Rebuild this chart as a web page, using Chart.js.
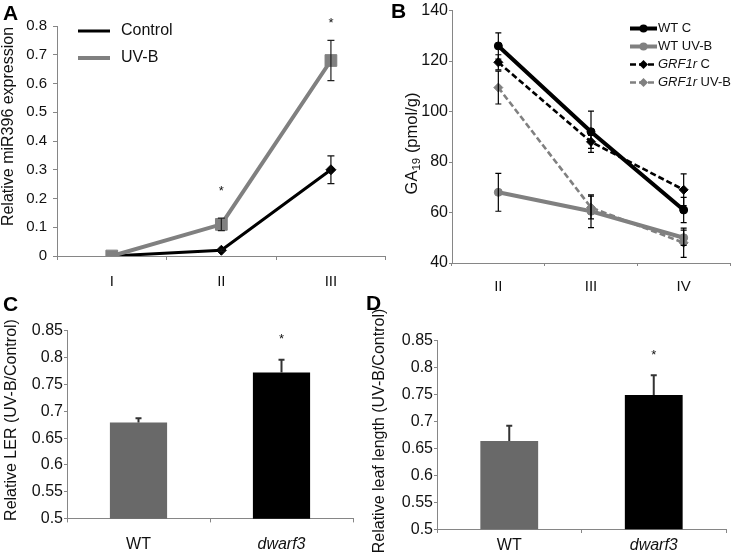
<!DOCTYPE html>
<html><head><meta charset="utf-8">
<script src="https://cdn.jsdelivr.net/npm/chart.js@4.4.1/dist/chart.umd.min.js"></script>
<style>
html,body{margin:0;padding:0;background:#fff;width:737px;height:553px;overflow:hidden;position:relative}
canvas{position:absolute}
.pl{position:absolute;font:bold 21px 'Liberation Sans',Arial,sans-serif;line-height:21px;color:#000}
</style></head><body>
<canvas id="cA" width="395" height="295" style="left:0px;top:0px;width:395px;height:295px"></canvas>
<canvas id="cB" width="367" height="295" style="left:370px;top:0px;width:367px;height:295px"></canvas>
<canvas id="cC" width="370" height="263" style="left:0px;top:290px;width:370px;height:263px"></canvas>
<canvas id="cD" width="367" height="263" style="left:370px;top:290px;width:367px;height:263px"></canvas>
<div class="pl" style="left:3px;top:2px">A</div>
<div class="pl" style="left:391px;top:0px">B</div>
<div class="pl" style="left:3px;top:293px">C</div>
<div class="pl" style="left:366px;top:292px">D</div>
<script>
// ---------------- data ----------------
const stagesA = ['I', 'II', 'III'];
const controlA = [0, 0.02, 0.30];
const controlErrA = [0, 0.004, 0.048];
const uvbA = [0, 0.11, 0.68];
const uvbErrA = [0, 0.022, 0.07];
const sigA = ['', '*', '*'];
const yTickValsA = [0, 0.1, 0.2, 0.3, 0.4, 0.5, 0.6, 0.7, 0.8];
const yTickLabelsA = ['0', '0.1', '0.2', '0.3', '0.4', '0.5', '0.6', '0.7', '0.8'];

const stagesB = ['II', 'III', 'IV'];
const wtC = [126, 92, 61];
const wtCErr = [5.2, 8.2, 5];
const wtUVB = [68, 60.5, 50];
const wtUVBErr = [7.5, 6.5, 3];
const grfC = [119.5, 88, 69];
const grfCErr = [3, 2.6, 6.3];
const grfUVB = [109.5, 62, 48];
const grfUVBErr = [6.5, 4.5, 5.8];
const yTickValsB = [40, 60, 80, 100, 120, 140];
const yTickLabelsB = ['40', '60', '80', '100', '120', '140'];

const genotypes = ['WT', 'dwarf3'];
const italicGenotypes = ['dwarf3'];
const lerC = [0.679, 0.772];
const lerErrC = [0.008, 0.024];
const leafD = [0.664, 0.749];
const leafErrD = [0.028, 0.037];
const sigCD = ['', '*'];
const yTickValsCD = [0.5, 0.55, 0.6, 0.65, 0.7, 0.75, 0.8, 0.85];
const yTickLabelsCD = ['0.5', '0.55', '0.6', '0.65', '0.7', '0.75', '0.8', '0.85'];

// ---------------- styling helpers ----------------
const FONT = "'Liberation Sans', Arial, Helvetica, sans-serif";
const AXIS = '#868686';
const TXT = '#111';
const GRAY = '#808080';
Chart.defaults.font.family = FONT;
Chart.defaults.color = TXT;

const errorBarPlugin = {
  id: 'errorBars',
  afterDatasetsDraw(chart) {
    const ctx = chart.ctx, y = chart.scales.y;
    chart.data.datasets.forEach((ds, di) => {
      if (!ds.errors) return;
      const meta = chart.getDatasetMeta(di);
      meta.data.forEach((el, i) => {
        const v = ds.data[i], e = ds.errors[i];
        if (!e) return;
        const top = y.getPixelForValue(v + e);
        const bot = ds.errorUpOnly ? y.getPixelForValue(v) : y.getPixelForValue(v - e);
        const c = ds.errorCap || 3;
        ctx.save();
        ctx.strokeStyle = ds.errorColor || '#000';
        ctx.lineWidth = ds.errorWidth || 1.2;
        ctx.beginPath();
        ctx.moveTo(el.x, top); ctx.lineTo(el.x, bot);
        ctx.moveTo(el.x - c, top); ctx.lineTo(el.x + c, top);
        if (!ds.errorUpOnly) { ctx.moveTo(el.x - c, bot); ctx.lineTo(el.x + c, bot); }
        ctx.stroke();
        ctx.restore();
      });
    });
  }
};

const sigPlugin = {
  id: 'sig',
  afterDatasetsDraw(chart, args, opts) {
    if (!opts || !opts.marks) return;
    const ctx = chart.ctx, x = chart.scales.x, y = chart.scales.y;
    opts.marks.forEach((m, i) => {
      if (!m) return;
      let top = Infinity;
      chart.data.datasets.forEach(ds => {
        const v = ds.data[i] + (ds.errors ? ds.errors[i] : 0);
        top = Math.min(top, y.getPixelForValue(v));
      });
      ctx.save();
      ctx.fillStyle = TXT;
      ctx.font = '13px ' + FONT;
      ctx.textAlign = 'center';
      ctx.textBaseline = 'middle';
      ctx.fillText(m, x.getPixelForValue(i), top - opts.gaps[i] + 3);
      ctx.restore();
    });
  }
};

function drawVTitle(ctx, parts, cx, cy, size) {
  ctx.save();
  ctx.fillStyle = TXT;
  ctx.textBaseline = 'middle';
  ctx.textAlign = 'left';
  const fontOf = p => (p.italic ? 'italic ' : '') + (p.sub ? size * 0.7 : size) + 'px ' + FONT;
  let total = 0;
  parts.forEach(p => { ctx.font = fontOf(p); total += ctx.measureText(p.text).width; });
  ctx.translate(cx, cy);
  ctx.rotate(-Math.PI / 2);
  let x = -total / 2;
  parts.forEach(p => {
    ctx.font = fontOf(p);
    ctx.fillText(p.text, x, p.sub ? size * 0.3 : 0);
    x += ctx.measureText(p.text).width;
  });
  ctx.restore();
}

function xAxis(height, tickLen, pad, size, italicList) {
  return {
    offset: true,
    grid: { display: true, drawOnChartArea: false, offset: true, tickLength: tickLen, color: AXIS },
    border: { display: true, color: AXIS, width: 1 },
    ticks: {
      padding: pad, color: TXT,
      font: c => ({ family: FONT, size: size,
        style: (italicList && c.tick && italicList.includes(c.chart.data.labels[c.index])) ? 'italic' : 'normal' })
    },
    afterFit: s => { s.height = height; }
  };
}
function yAxis(width, min, max, vals, labels, tickLen, pad, size) {
  return {
    min: min, max: max,
    grid: { display: true, drawOnChartArea: false, tickLength: tickLen, color: AXIS },
    border: { display: true, color: AXIS, width: 1 },
    afterBuildTicks: s => { s.ticks = vals.map(v => ({ value: v })); },
    ticks: { padding: pad, color: TXT, font: { family: FONT, size: size }, callback: (v, i) => labels[i] },
    afterFit: s => { s.width = width; }
  };
}
const baseOpts = {
  responsive: false, animation: false, devicePixelRatio: 1,
  events: []
};

// ---------------- Panel A ----------------
new Chart(document.getElementById('cA'), {
  type: 'line',
  data: {
    labels: stagesA,
    datasets: [
      { label: 'Control', data: controlA, errors: controlErrA, borderColor: '#000', backgroundColor: '#000',
        borderWidth: 3, pointStyle: 'rectRot', pointRadius: 5, pointBorderWidth: 1, order: 1,
        errorColor: '#111', errorCap: 3.5, tension: 0 },
      { label: 'UV-B', data: uvbA, errors: uvbErrA, borderColor: GRAY, backgroundColor: GRAY,
        borderWidth: 4, pointStyle: 'rect', pointRadius: 8.3, pointBorderWidth: 1, order: 0,
        errorColor: '#222', errorCap: 3.5, tension: 0 }
    ]
  },
  options: Object.assign({}, baseOpts, {
    layout: { padding: { left: 0, right: 7, top: 26, bottom: 0 } },
    plugins: { legend: { display: false }, tooltip: { enabled: false },
      sig: { marks: sigA, gaps: [0, 30, 20] } },
    scales: {
      x: xAxis(39, 4, 13, 15),
      y: yAxis(57, 0, 0.8, yTickValsA, yTickLabelsA, 4, 6, 15)
    }
  }),
  plugins: [errorBarPlugin, sigPlugin, {
    id: 'decorA',
    afterDraw(chart) {
      const ctx = chart.ctx;
      const rows = [31, 58];
      chart.data.datasets.forEach((ds, i) => {
        ctx.save();
        ctx.strokeStyle = ds.borderColor; ctx.lineWidth = ds.borderWidth;
        ctx.beginPath(); ctx.moveTo(78, rows[i]); ctx.lineTo(110, rows[i]); ctx.stroke();
        ctx.fillStyle = TXT; ctx.font = '16px ' + FONT; ctx.textBaseline = 'middle';
        ctx.fillText(ds.label, 121, rows[i]);
        ctx.restore();
      });
      drawVTitle(ctx, [{ text: 'Relative miR396 expression' }], 9, 126.5, 16);
    }
  }]
});

// ---------------- Panel B ----------------
const legendB = [
  [{ text: 'WT C' }],
  [{ text: 'WT UV-B' }],
  [{ text: 'GRF1r', italic: true }, { text: ' C' }],
  [{ text: 'GRF1r', italic: true }, { text: ' UV-B' }]
];
new Chart(document.getElementById('cB'), {
  type: 'line',
  data: {
    labels: stagesB,
    datasets: [
      { label: 'WT C', data: wtC, errors: wtCErr, borderColor: '#000', backgroundColor: '#000', borderWidth: 4,
        pointStyle: 'circle', pointRadius: 4, pointBorderWidth: 1, tension: 0 },
      { label: 'WT UV-B', data: wtUVB, errors: wtUVBErr, borderColor: GRAY, backgroundColor: GRAY, borderWidth: 4,
        pointStyle: 'circle', pointRadius: 4, pointBorderWidth: 1, tension: 0 },
      { label: 'GRF1r C', data: grfC, errors: grfCErr, borderColor: '#000', backgroundColor: '#000', borderWidth: 2.6,
        borderDash: [6, 3], pointStyle: 'rectRot', pointRadius: 4.5, pointBorderWidth: 1, tension: 0 },
      { label: 'GRF1r UV-B', data: grfUVB, errors: grfUVBErr, borderColor: GRAY, backgroundColor: GRAY, borderWidth: 2.6,
        borderDash: [6, 3], pointStyle: 'rectRot', pointRadius: 4.5, pointBorderWidth: 1, tension: 0 }
    ]
  },
  options: Object.assign({}, baseOpts, {
    layout: { padding: { left: 0, right: 7, top: 10, bottom: 0 } },
    plugins: { legend: { display: false }, tooltip: { enabled: false } },
    scales: {
      x: xAxis(32, 3, 12, 15),
      y: yAxis(82, 40, 140, yTickValsB, yTickLabelsB, 3, 1, 16)
    }
  }),
  plugins: [errorBarPlugin, {
    id: 'decorB',
    afterDraw(chart) {
      const ctx = chart.ctx;
      const rows = [28.5, 46.5, 64.5, 82.5];
      chart.data.datasets.forEach((ds, i) => {
        const y = rows[i];
        ctx.save();
        ctx.strokeStyle = ds.borderColor; ctx.lineWidth = ds.borderWidth;
        ctx.setLineDash(ds.borderDash || []);
        ctx.beginPath(); ctx.moveTo(260, y); ctx.lineTo(287, y); ctx.stroke();
        ctx.setLineDash([]);
        ctx.fillStyle = ds.backgroundColor;
        Chart.helpers.drawPoint(ctx, { pointStyle: ds.pointStyle, radius: ds.pointRadius, borderWidth: 0 }, 273.5, y);
        ctx.fillStyle = TXT; ctx.textBaseline = 'middle';
        let x = 288;
        legendB[i].forEach(p => {
          ctx.font = (p.italic ? 'italic ' : '') + '13px ' + FONT;
          ctx.fillText(p.text, x, y);
          x += ctx.measureText(p.text).width;
        });
        ctx.restore();
      });
      drawVTitle(ctx, [{ text: 'GA' }, { text: '19', sub: true }, { text: ' (pmol/g)' }], 42, 143.5, 16.5);
    }
  }]
});

// ---------------- Panels C & D ----------------
function barPanel(id, values, errs, padTop, padRight, xH, xPad, sigGap, title, tcx, tcy, tsize) {
  new Chart(document.getElementById(id), {
    type: 'bar',
    data: {
      labels: genotypes,
      datasets: [{ data: values, errors: errs, errorUpOnly: true, errorColor: '#333', errorWidth: 2, errorCap: 3,
        backgroundColor: ['#696969', '#000000'], borderWidth: 0,
        categoryPercentage: 1, barPercentage: 0.4 }]
    },
    options: Object.assign({}, baseOpts, {
      layout: { padding: { left: 0, right: padRight, top: padTop, bottom: 0 } },
      plugins: { legend: { display: false }, tooltip: { enabled: false },
        sig: { marks: sigCD, gaps: [0, sigGap] } },
      scales: {
        x: xAxis(xH, 3.7, xPad, 16, italicGenotypes),
        y: yAxis(67, 0.5, 0.85, yTickValsCD, yTickLabelsCD, 3, 1, 16)
      }
    }),
    plugins: [errorBarPlugin, sigPlugin, {
      id: 'decor' + id,
      afterDraw(chart) { drawVTitle(chart.ctx, [{ text: title }], tcx, tcy, tsize); }
    }]
  });
}
barPanel('cC', lerC, lerErrC, 40.7, 17, 34.3, 13, 23.5, 'Relative LER (UV-B/Control)', 11.5, 130, 16);
barPanel('cD', leafD, leafErrD, 50.7, 11, 23.7, 3.4, 22.5, 'Relative leaf length (UV-B/Control)', 10, 141, 16);
</script>
</body></html>
